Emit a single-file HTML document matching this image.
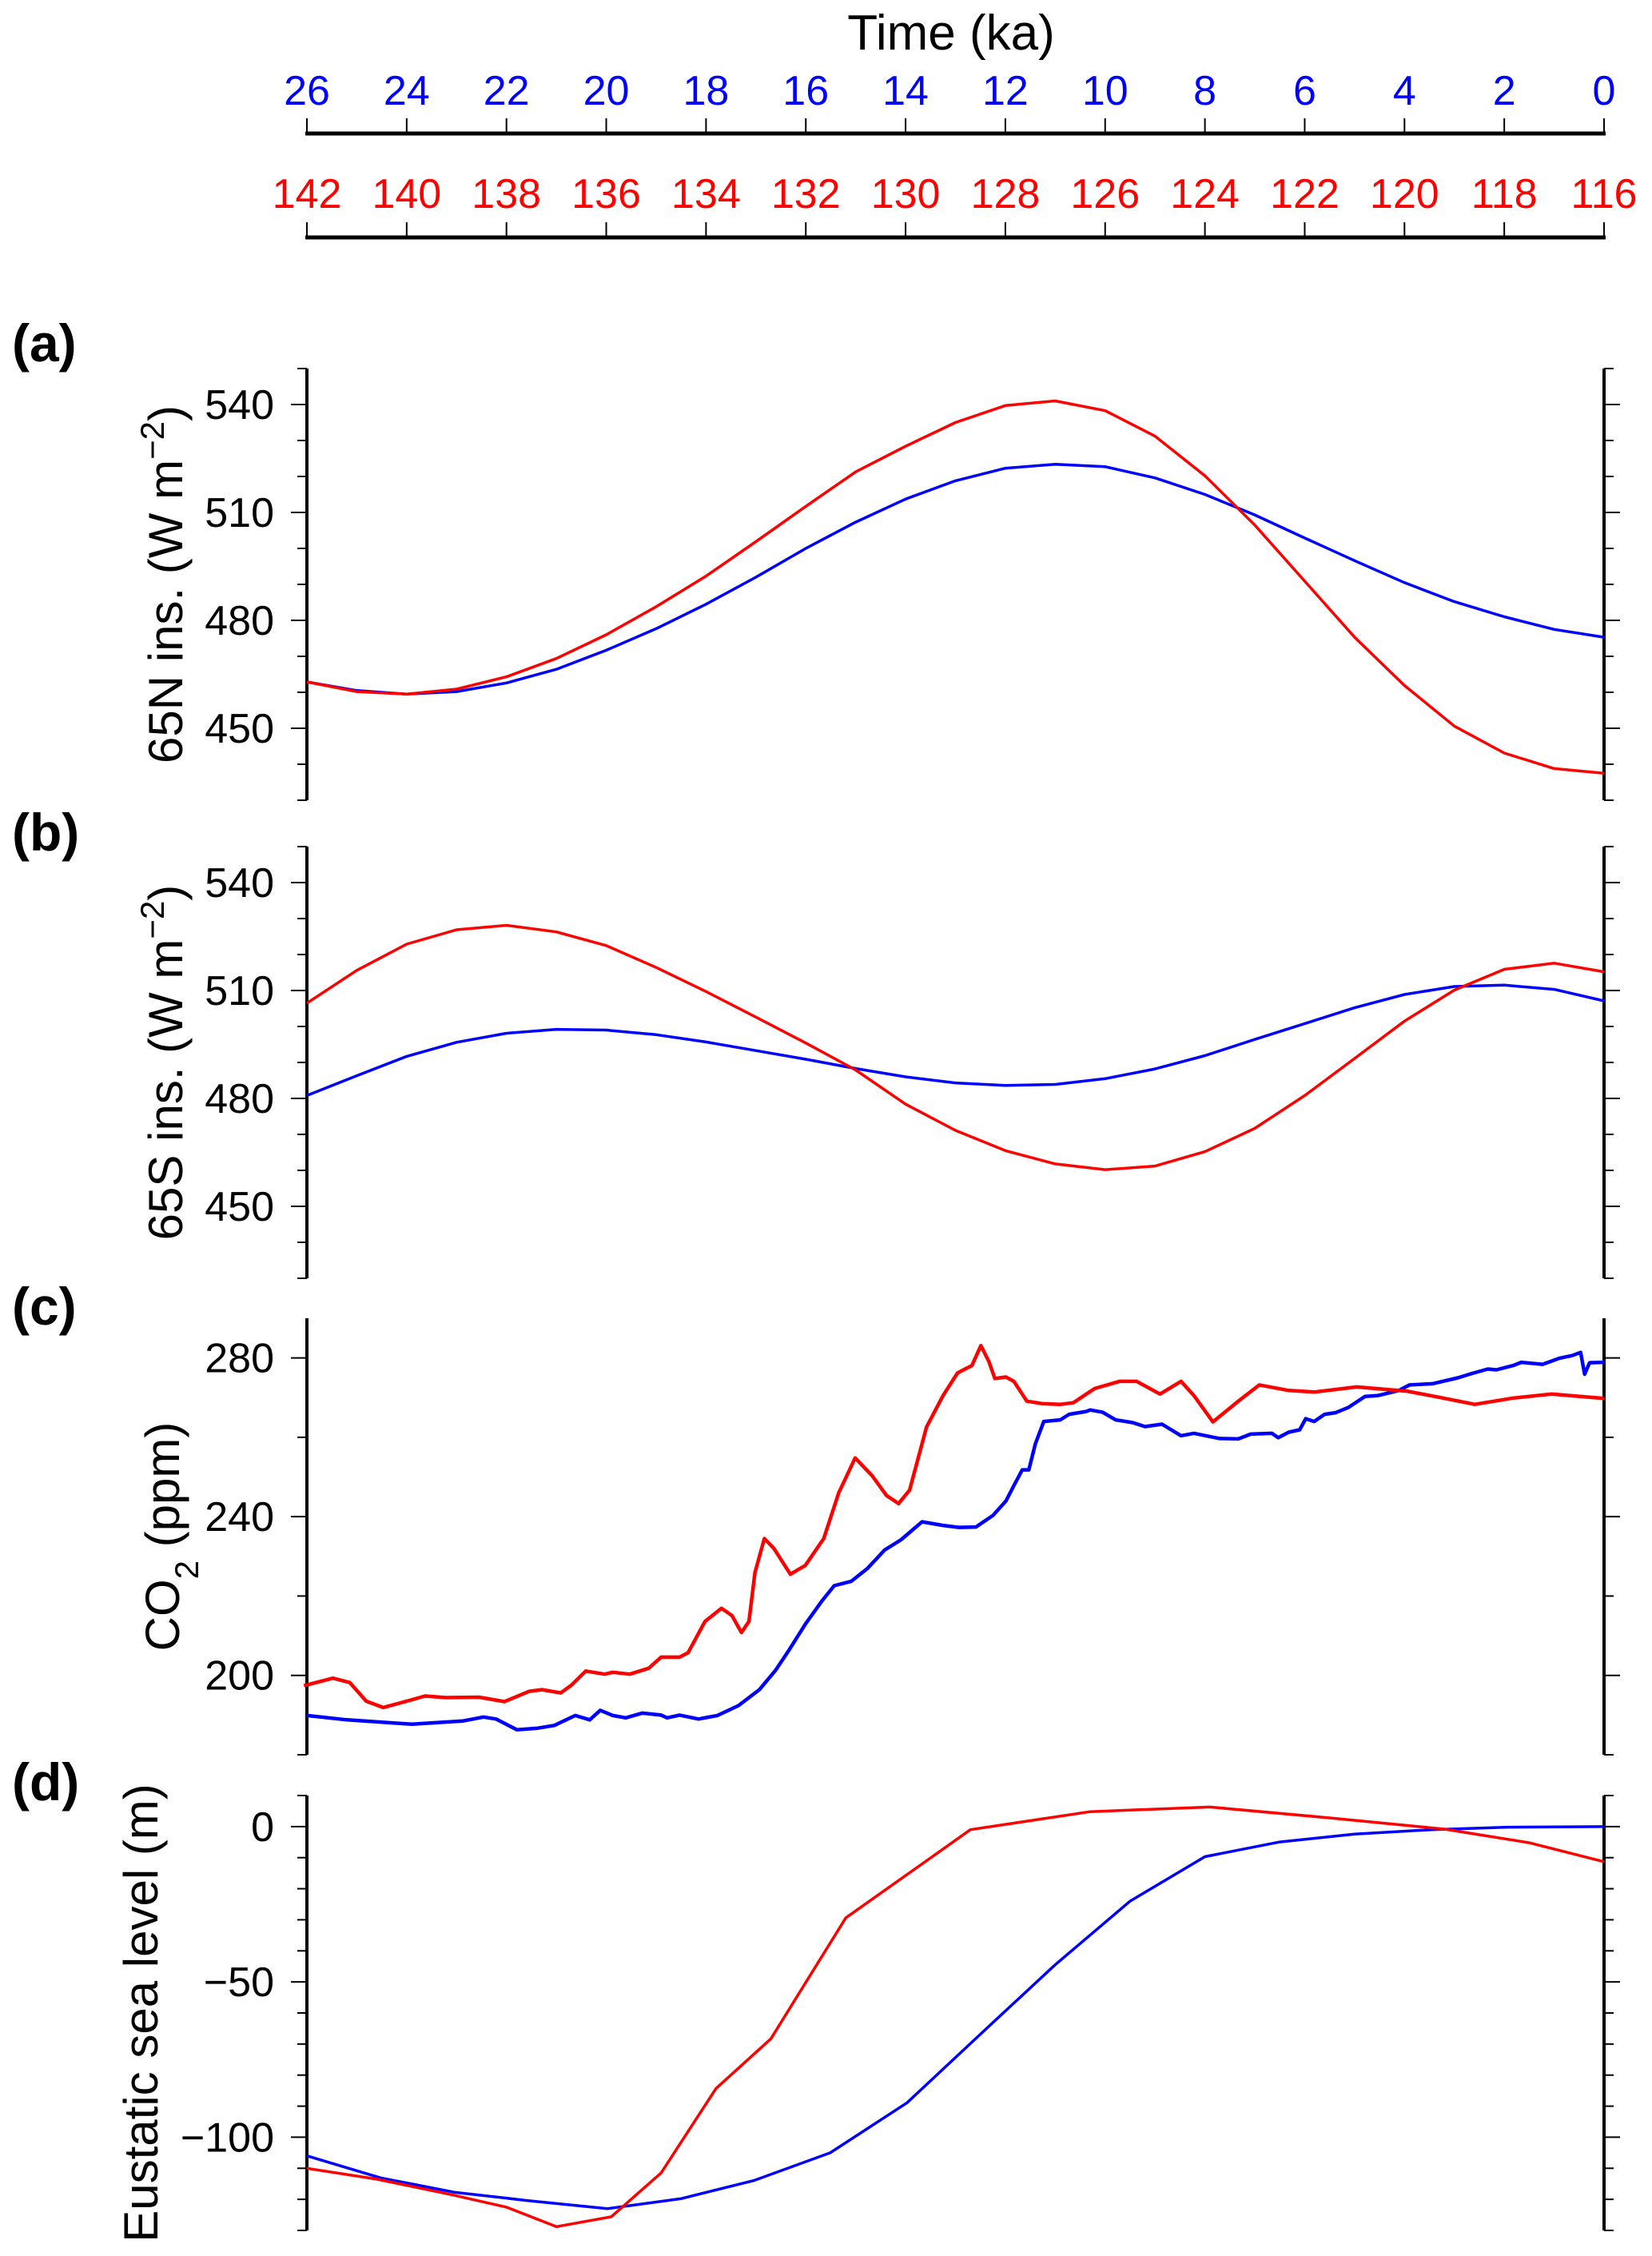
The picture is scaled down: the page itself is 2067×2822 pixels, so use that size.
<!DOCTYPE html>
<html><head><meta charset="utf-8">
<style>
html,body{margin:0;padding:0;background:#fff;}
svg{display:block;font-family:"Liberation Sans",Arial,sans-serif;}
</style></head>
<body>
<svg id="chart" width="2067" height="2822" viewBox="0 0 2067 2822" xmlns="http://www.w3.org/2000/svg">
<text x="1190" y="62" font-size="62" text-anchor="middle">Time (ka)</text>
<g id="topaxes"></g>
<g id="panels"></g>
</svg>
<script>
// ---------- data ----------
const blueAgeTicks = [26,24,22,20,18,16,14,12,10,8,6,4,2,0];
const redAgeTicks = [142,140,138,136,134,132,130,128,126,124,122,120,118,116];

const aBlueT = [26,25,24,23,22,21,20,19,18,17,16,15,14,13,12,11,10,9,8,7,6,5,4,3,2,1,0];
const aBlueV = [462.9,460.5,459.5,460.2,462.6,466.4,471.7,477.7,484.5,492,500,507.3,513.7,518.8,522.3,523.4,522.7,519.6,515,509.3,502.9,496.6,490.5,485.2,481,477.5,475.3];
const aRedT = [142,141,140,139,138,137,136,135,134,133,132,131,130,129,128,127,126,125,124,123,122,121,120,119,118,117,116];
const aRedV = [462.9,460.2,459.5,460.9,464.3,469.4,476,483.8,492.3,501.9,511.7,521.3,528.4,535,539.7,541,538.3,531.2,520.2,506.5,490.9,475.3,461.9,450.6,443.1,438.8,437.5];

const bBlueT = aBlueT;
const bBlueV = [480.8,486.3,491.7,495.6,498.1,499.2,499,497.7,495.7,493.3,490.9,488.3,486,484.3,483.6,483.9,485.5,488.2,491.9,496.4,500.8,505.2,508.9,511.1,511.5,510.3,507.1];
const bRedT = aRedT;
const bRedV = [506.5,515.6,522.9,526.9,528.1,526.3,522.5,516.4,509.7,502.6,495.4,487.9,478.4,471.1,465.5,461.8,460.2,461.2,465.2,471.7,480.8,491.1,501.5,510.1,515.9,517.6,515.2];

const cBlueT = [26,25.2,23.89,22.88,22.46,22.21,21.79,21.37,21.04,20.62,20.33,20.12,19.87,19.61,19.28,18.9,18.78,18.53,18.15,17.77,17.35,16.93,16.6,16.35,16.01,15.68,15.43,15.09,14.76,14.42,14.09,13.67,13.25,12.93,12.59,12.25,11.99,11.83,11.66,11.53,11.4,11.23,10.9,10.72,10.38,10.3,10.05,9.79,9.45,9.2,8.86,8.48,8.22,7.71,7.33,7.08,6.66,6.53,6.32,6.1,5.98,5.81,5.6,5.38,5.13,4.79,4.54,4.11,3.9,3.44,2.93,2.67,2.33,2.16,1.82,1.66,1.23,0.9,0.64,0.47,0.39,0.29,0];
const cBlueV = [189.9,188.8,187.7,188.5,189.5,189.0,186.3,186.7,187.4,189.9,188.8,191.2,189.9,189.3,190.5,190.0,189.3,190.0,189.0,189.9,192.4,196.4,201.4,206.1,212.9,218.7,222.6,223.7,227.0,231.6,234.2,238.7,237.8,237.3,237.4,240.3,243.9,247.8,251.8,251.8,258.3,264.0,264.4,265.8,266.5,266.9,266.3,264.4,263.7,262.7,263.3,260.4,261.0,259.7,259.6,260.8,261.0,259.9,261.3,261.9,264.7,264.0,265.8,266.2,267.5,270.3,270.5,271.8,273.2,273.5,275.0,276.0,277.2,277.0,278.1,278.9,278.4,279.9,280.6,281.4,275.9,278.8,278.9];
const cRedT = [142.06,141.48,141.14,140.81,140.47,139.97,139.63,139.22,138.55,138.04,137.54,137.29,136.91,136.7,136.41,136.03,135.87,135.53,135.15,134.9,134.53,134.36,134.02,133.69,133.48,133.29,133.14,133.02,132.83,132.64,132.31,132.01,131.64,131.34,131.01,130.67,130.38,130.14,129.92,129.58,129.25,128.96,128.84,128.67,128.49,128.33,128.21,127.99,127.83,127.57,127.27,126.9,126.64,126.21,125.71,125.37,124.9,124.48,124.22,123.84,123.33,122.91,122.32,121.81,120.96,119.94,119.35,118.59,117.82,117.06,116];
const cRedV = [197.4,199.3,198.2,193.5,191.9,193.6,194.8,194.4,194.5,193.4,196.0,196.4,195.6,197.5,201.1,200.3,200.8,200.3,201.8,204.6,204.6,205.7,213.6,216.9,215.1,210.8,213.6,225.9,234.5,232.0,225.5,227.7,234.5,246.0,254.8,250.3,245.3,243.3,246.7,262.6,270.5,276.2,277.0,278.1,283.1,279.1,274.8,275.2,274.1,269.1,268.5,268.3,268.7,272.3,274.1,274.1,270.9,274.1,270.5,263.9,269.1,273.2,271.8,271.4,272.7,271.6,270.2,268.3,269.9,270.9,269.8];

const dBlueT = [26,24.52,23.05,21.57,19.98,18.51,17.03,15.51,13.97,12.49,11.01,9.5,8.0,6.52,5.0,3.46,1.94,0];
const dBlueV = [-106.0,-113.1,-117.7,-120.4,-123.0,-119.8,-113.9,-105.0,-88.9,-66.7,-44.6,-24.0,-9.7,-5.0,-2.4,-1.0,-0.2,0];
const dRedT = [142,140.6,139.1,138.0,137.0,135.9,134.9,133.8,132.7,131.2,128.7,126.3,123.9,121.5,119.2,117.5,116];
const dRedV = [-110,-113.5,-118.5,-122.5,-128.8,-125.6,-111.5,-84.3,-68.3,-29.4,-1.0,4.8,6.3,2.8,-0.8,-5.2,-11.3];

// ---------- layout ----------
const NS = "http://www.w3.org/2000/svg";
const X0 = 384, X1 = 2007;
const xBlue = t => X0 + (26 - t) / 26 * (X1 - X0);
const xRed = a => X0 + (142 - a) / 26 * (X1 - X0);

function mk(tag, attrs, parent) {
  const e = document.createElementNS(NS, tag);
  for (const k in attrs) e.setAttribute(k, attrs[k]);
  parent.appendChild(e);
  return e;
}

const topG = document.getElementById('topaxes');
[[167, blueAgeTicks, xBlue, '#0000ff', 131, 'blue-age-axis'], [297, redAgeTicks, xRed, '#ff0000', 260, 'red-age-axis']].forEach(([yy, ticks, xf, col, ly, nm]) => {
  const ln = mk('line', {x1: X0 - 2, x2: X1 + 2, y1: yy, y2: yy, stroke: '#000', 'stroke-width': 5}, topG);
  
  
  ticks.forEach(v => {
    const x = xf(v);
    const tk = mk('line', {x1: x, x2: x, y1: yy, y2: yy - 19, stroke: '#000', 'stroke-width': 2}, topG);
    
    
    const tx = mk('text', {x: x, y: ly, 'font-size': 52, fill: col, 'text-anchor': 'middle'}, topG);
    tx.textContent = v;
    
    
  });
});

const panels = [
  {id: 'a', top: 461, bot: 1001, lo: 430, hi: 550, minor: 10, major: [450, 480, 510, 540], lab: 'a', ylabel: '65N ins. (W m<tspan baseline-shift="super" font-size="42">−2</tspan>)', lx: 228, lpy: 452, bT: aBlueT, bV: aBlueV, rT: aRedT, rV: aRedV, lw: 3.5},
  {id: 'b', top: 1059, bot: 1599, lo: 430, hi: 550, minor: 10, major: [450, 480, 510, 540], lab: 'b', ylabel: '65S ins. (W m<tspan baseline-shift="super" font-size="42">−2</tspan>)', lx: 228, lpy: 1064, bT: bBlueT, bV: bBlueV, rT: bRedT, rV: bRedV, lw: 3.5},
  {id: 'c', top: 1649, bot: 2195, lo: 180, hi: 290, minor: 20, major: [200, 240, 280], lab: 'c', ylabel: 'CO<tspan baseline-shift="sub" font-size="42">2</tspan> (ppm)', lx: 224, lpy: 1657, bT: cBlueT, bV: cBlueV, rT: cRedT, rV: cRedV, lw: 4.5},
  {id: 'd', top: 2246, bot: 2790, lo: -130, hi: 10, minor: 10, major: [-100, -50, 0], lab: 'd', ylabel: 'Eustatic sea level (m)', lx: 197, lpy: 2252, bT: dBlueT, bV: dBlueV, rT: dRedT, rV: dRedV, lw: 3.5}
];

const pg = document.getElementById('panels');
panels.forEach(p => {
  const g = mk('g', {}, pg);
  
  
  const ys = v => p.bot - (v - p.lo) / (p.hi - p.lo) * (p.bot - p.top);
  [X0, X1].forEach((x, i) => {
    const ax = mk('line', {x1: x, x2: x, y1: p.top, y2: p.bot, stroke: '#000', 'stroke-width': 4}, g);
    
    
  });
  for (let v = p.lo; v <= p.hi + 1e-6; v += p.minor) {
    const isMaj = p.major.includes(v);
    const len = isMaj ? 20 : 12;
    const yy = ys(v);
    const t1 = mk('line', {x1: X0 - len, x2: X0, y1: yy, y2: yy, stroke: '#000', 'stroke-width': 2}, g);
    
    
    const t2 = mk('line', {x1: X1, x2: X1 + len, y1: yy, y2: yy, stroke: '#000', 'stroke-width': 2}, g);
    
    
  }
  p.major.forEach(v => {
    const tx = mk('text', {x: 343, y: ys(v) + 18, 'font-size': 52, 'text-anchor': 'end'}, g);
    tx.textContent = v < 0 ? '−' + Math.abs(v) : String(v);
    
    
  });
  const cy = (p.top + p.bot) / 2;
  const yl = mk('text', {x: p.lx, y: cy, 'font-size': 60, 'text-anchor': 'middle', transform: 'rotate(-90 ' + p.lx + ' ' + cy + ')'}, g);
  yl.innerHTML = p.ylabel;
  
  
  const pl = mk('text', {x: 15, y: p.lpy, 'font-size': 66, 'font-weight': 'bold'}, g);
  pl.textContent = '(' + p.lab + ')';
  
  
  const rp = p.rT.map((t, i) => xRed(t).toFixed(1) + ',' + ys(p.rV[i]).toFixed(1)).join(' ');
  const bp = p.bT.map((t, i) => xBlue(t).toFixed(1) + ',' + ys(p.bV[i]).toFixed(1)).join(' ');
  const bl = mk('polyline', {points: bp, fill: 'none', stroke: '#0000ff', 'stroke-width': p.lw, 'stroke-linejoin': 'round'}, g);
  
  
  const rl = mk('polyline', {points: rp, fill: 'none', stroke: '#ff0000', 'stroke-width': p.lw, 'stroke-linejoin': 'round'}, g);
  
  
});
</script>
</body></html>
